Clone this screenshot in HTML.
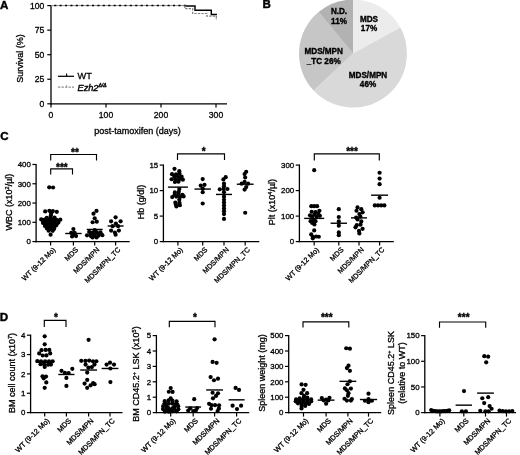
<!DOCTYPE html>
<html><head><meta charset="utf-8"><title>Figure</title>
<style>html,body{margin:0;padding:0;background:#fff}svg{display:block;filter:blur(0.35px)}</style>
</head><body>
<svg width="520" height="455" viewBox="0 0 520 455" font-family='"Liberation Sans", sans-serif'>
<rect width="520" height="455" fill="#fff"/>
<text x="0.10" y="8.50" font-size="11.6" text-anchor="start" font-weight="bold" fill="#000" stroke="#000" stroke-width="0.4" >A</text>
<text x="262.50" y="8.40" font-size="11.6" text-anchor="start" font-weight="bold" fill="#000" stroke="#000" stroke-width="0.4" >B</text>
<text x="0.20" y="140.00" font-size="11.6" text-anchor="start" font-weight="bold" fill="#000" stroke="#000" stroke-width="0.4" >C</text>
<text x="-0.20" y="320.70" font-size="11.6" text-anchor="start" font-weight="bold" fill="#000" stroke="#000" stroke-width="0.4" >D</text>
<line x1="51.00" y1="5.00" x2="51.00" y2="104.40" stroke="#000" stroke-width="1.3" />
<line x1="50.40" y1="103.80" x2="227.00" y2="103.80" stroke="#000" stroke-width="1.3" />
<line x1="47.30" y1="103.80" x2="51.00" y2="103.80" stroke="#000" stroke-width="1.2" />
<text x="44.30" y="106.85" font-size="8.6" text-anchor="end" font-weight="normal" fill="#000" stroke="#000" stroke-width="0.3" >0</text>
<line x1="47.30" y1="79.25" x2="51.00" y2="79.25" stroke="#000" stroke-width="1.2" />
<text x="44.30" y="82.30" font-size="8.6" text-anchor="end" font-weight="normal" fill="#000" stroke="#000" stroke-width="0.3" >25</text>
<line x1="47.30" y1="54.70" x2="51.00" y2="54.70" stroke="#000" stroke-width="1.2" />
<text x="44.30" y="57.75" font-size="8.6" text-anchor="end" font-weight="normal" fill="#000" stroke="#000" stroke-width="0.3" >50</text>
<line x1="47.30" y1="30.15" x2="51.00" y2="30.15" stroke="#000" stroke-width="1.2" />
<text x="44.30" y="33.20" font-size="8.6" text-anchor="end" font-weight="normal" fill="#000" stroke="#000" stroke-width="0.3" >75</text>
<line x1="47.30" y1="5.60" x2="51.00" y2="5.60" stroke="#000" stroke-width="1.2" />
<text x="44.30" y="8.65" font-size="8.6" text-anchor="end" font-weight="normal" fill="#000" stroke="#000" stroke-width="0.3" >100</text>
<line x1="51.00" y1="103.80" x2="51.00" y2="107.40" stroke="#000" stroke-width="1.2" />
<text x="51.00" y="117.80" font-size="8.6" text-anchor="middle" font-weight="normal" fill="#000" stroke="#000" stroke-width="0.3" >0</text>
<line x1="106.00" y1="103.80" x2="106.00" y2="107.40" stroke="#000" stroke-width="1.2" />
<text x="106.00" y="117.80" font-size="8.6" text-anchor="middle" font-weight="normal" fill="#000" stroke="#000" stroke-width="0.3" >100</text>
<line x1="161.00" y1="103.80" x2="161.00" y2="107.40" stroke="#000" stroke-width="1.2" />
<text x="161.00" y="117.80" font-size="8.6" text-anchor="middle" font-weight="normal" fill="#000" stroke="#000" stroke-width="0.3" >200</text>
<line x1="216.00" y1="103.80" x2="216.00" y2="107.40" stroke="#000" stroke-width="1.2" />
<text x="216.00" y="117.80" font-size="8.6" text-anchor="middle" font-weight="normal" fill="#000" stroke="#000" stroke-width="0.3" >300</text>
<text x="22.70" y="58.50" font-size="9" text-anchor="middle" font-weight="normal" fill="#000" stroke="#000" stroke-width="0.3" transform="rotate(-90 22.70 58.50)" >Survival (%)</text>
<text x="137.50" y="133.60" font-size="9" text-anchor="middle" font-weight="normal" fill="#000" stroke="#000" stroke-width="0.3" >post-tamoxifen (days)</text>
<path d="M51 5.6H186" fill="none" stroke="#8c8c8c" stroke-width="1.0"/>
<path d="M54.2 5.6H186" fill="none" stroke="#000" stroke-width="1.5" stroke-dasharray="2.1 3.3"/>
<path d="M185.6 5.8999999999999995H195V10.2H211.3V14.4H217" fill="none" stroke="#000" stroke-width="1.45"/>
<path d="M184.8 5.6V8.7H192.7V13.5H206.9V16.1H216.3V20" fill="none" stroke="#7c7c7c" stroke-width="1.2" stroke-dasharray="2.3 1.2"/>
<line x1="58.00" y1="76.30" x2="74.00" y2="76.30" stroke="#000" stroke-width="1.25" />
<line x1="66.60" y1="73.60" x2="66.60" y2="76.30" stroke="#000" stroke-width="1.1" />
<text x="77.50" y="79.10" font-size="9.2" text-anchor="start" font-weight="normal" fill="#000" stroke="#000" stroke-width="0.3" >WT</text>
<line x1="58.00" y1="87.10" x2="74.00" y2="87.10" stroke="#8e8e8e" stroke-width="1.1" stroke-dasharray="2.3 1.2"/>
<line x1="66.60" y1="85.20" x2="66.60" y2="87.10" stroke="#9c9c9c" stroke-width="1.0" />
<text x="77.5" y="90.6" font-size="9.2" font-style="italic" stroke="#000" stroke-width="0.4">Ezh2<tspan font-size="5" dy="-3.6">&#916;/&#916;</tspan></text>
<path d="M353.0 53.6L353.00 -0.40A54 54 0 0 1 400.32 27.59Z" fill="#ececec"/>
<path d="M353.0 53.6L400.32 27.59A54 54 0 0 1 313.64 90.57Z" fill="#d9d9d9"/>
<path d="M353.0 53.6L313.64 90.57A54 54 0 0 1 318.58 11.99Z" fill="#c6c6c6"/>
<path d="M353.0 53.6L318.58 11.99A54 54 0 0 1 353.00 -0.40Z" fill="#b2b2b2"/>
<text x="369.00" y="22.00" font-size="8.15" text-anchor="middle" font-weight="bold" fill="#000" stroke="#000" stroke-width="0.35" >MDS</text>
<text x="369.00" y="31.40" font-size="8.15" text-anchor="middle" font-weight="bold" fill="#000" stroke="#000" stroke-width="0.35" >17%</text>
<text x="339.00" y="14.20" font-size="8.15" text-anchor="middle" font-weight="bold" fill="#000" stroke="#000" stroke-width="0.35" >N.D.</text>
<text x="339.00" y="23.60" font-size="8.15" text-anchor="middle" font-weight="bold" fill="#000" stroke="#000" stroke-width="0.35" >11%</text>
<text x="323.70" y="54.20" font-size="8.15" text-anchor="middle" font-weight="bold" fill="#000" stroke="#000" stroke-width="0.35" >MDS/MPN</text>
<text x="323.70" y="63.60" font-size="8.15" text-anchor="middle" font-weight="bold" fill="#000" stroke="#000" stroke-width="0.35" >_TC 26%</text>
<text x="368.00" y="77.50" font-size="8.15" text-anchor="middle" font-weight="bold" fill="#000" stroke="#000" stroke-width="0.35" >MDS/MPN</text>
<text x="368.00" y="86.50" font-size="8.15" text-anchor="middle" font-weight="bold" fill="#000" stroke="#000" stroke-width="0.35" >46%</text>
<line x1="36.10" y1="163.88" x2="36.10" y2="242.20" stroke="#000" stroke-width="1.3" />
<line x1="35.50" y1="241.60" x2="129.70" y2="241.60" stroke="#000" stroke-width="1.3" />
<line x1="32.40" y1="241.60" x2="36.10" y2="241.60" stroke="#000" stroke-width="1.2" />
<text x="30.90" y="244.44" font-size="7.9" text-anchor="end" font-weight="normal" fill="#000" stroke="#000" stroke-width="0.3" >0</text>
<line x1="32.40" y1="222.32" x2="36.10" y2="222.32" stroke="#000" stroke-width="1.2" />
<text x="30.90" y="225.16" font-size="7.9" text-anchor="end" font-weight="normal" fill="#000" stroke="#000" stroke-width="0.3" >100</text>
<line x1="32.40" y1="203.04" x2="36.10" y2="203.04" stroke="#000" stroke-width="1.2" />
<text x="30.90" y="205.88" font-size="7.9" text-anchor="end" font-weight="normal" fill="#000" stroke="#000" stroke-width="0.3" >200</text>
<line x1="32.40" y1="183.76" x2="36.10" y2="183.76" stroke="#000" stroke-width="1.2" />
<text x="30.90" y="186.60" font-size="7.9" text-anchor="end" font-weight="normal" fill="#000" stroke="#000" stroke-width="0.3" >300</text>
<line x1="32.40" y1="164.48" x2="36.10" y2="164.48" stroke="#000" stroke-width="1.2" />
<text x="30.90" y="167.32" font-size="7.9" text-anchor="end" font-weight="normal" fill="#000" stroke="#000" stroke-width="0.3" >400</text>
<line x1="50.60" y1="241.60" x2="50.60" y2="245.60" stroke="#000" stroke-width="1.2" />
<line x1="73.40" y1="241.60" x2="73.40" y2="245.60" stroke="#000" stroke-width="1.2" />
<line x1="94.70" y1="241.60" x2="94.70" y2="245.60" stroke="#000" stroke-width="1.2" />
<line x1="115.60" y1="241.60" x2="115.60" y2="245.60" stroke="#000" stroke-width="1.2" />
<text x="55.90" y="250.20" font-size="7.15" text-anchor="end" font-weight="normal" fill="#000" stroke="#000" stroke-width="0.3" transform="rotate(-45 55.90 250.20)" >WT (9-12 Mo)</text>
<text x="78.70" y="250.20" font-size="7.15" text-anchor="end" font-weight="normal" fill="#000" stroke="#000" stroke-width="0.3" transform="rotate(-45 78.70 250.20)" >MDS</text>
<text x="100.00" y="250.20" font-size="7.15" text-anchor="end" font-weight="normal" fill="#000" stroke="#000" stroke-width="0.3" transform="rotate(-45 100.00 250.20)" >MDS/MPN</text>
<text x="120.90" y="250.20" font-size="7.15" text-anchor="end" font-weight="normal" fill="#000" stroke="#000" stroke-width="0.3" transform="rotate(-45 120.90 250.20)" >MDS/MPN_TC</text>
<text x="12.00" y="202.00" font-size="9" text-anchor="middle" font-weight="normal" fill="#000" stroke="#000" stroke-width="0.3" transform="rotate(-90 12.00 202.00)" >WBC (x10<tspan font-size="5.5" dy="-3">2</tspan><tspan dy="3">/&#181;l)</tspan></text>
<circle cx="49.22" cy="187.35" r="2.1"/>
<circle cx="53.05" cy="187.49" r="2.1"/>
<circle cx="45.18" cy="211.46" r="2.1"/>
<circle cx="49.37" cy="210.84" r="2.1"/>
<circle cx="52.87" cy="211.09" r="2.1"/>
<circle cx="56.79" cy="211.83" r="2.1"/>
<circle cx="51.10" cy="213.45" r="2.1"/>
<circle cx="50.90" cy="215.57" r="2.1"/>
<circle cx="46.79" cy="217.84" r="2.1"/>
<circle cx="50.43" cy="217.64" r="2.1"/>
<circle cx="54.58" cy="217.63" r="2.1"/>
<circle cx="41.22" cy="219.45" r="2.1"/>
<circle cx="44.68" cy="219.60" r="2.1"/>
<circle cx="48.75" cy="219.69" r="2.1"/>
<circle cx="52.27" cy="219.23" r="2.1"/>
<circle cx="56.29" cy="219.79" r="2.1"/>
<circle cx="60.29" cy="219.65" r="2.1"/>
<circle cx="43.21" cy="221.18" r="2.1"/>
<circle cx="46.95" cy="220.87" r="2.1"/>
<circle cx="50.82" cy="220.92" r="2.1"/>
<circle cx="54.20" cy="221.35" r="2.1"/>
<circle cx="58.06" cy="220.61" r="2.1"/>
<circle cx="42.97" cy="222.98" r="2.1"/>
<circle cx="46.70" cy="222.64" r="2.1"/>
<circle cx="50.54" cy="222.52" r="2.1"/>
<circle cx="54.44" cy="222.36" r="2.1"/>
<circle cx="58.40" cy="222.60" r="2.1"/>
<circle cx="45.11" cy="224.24" r="2.1"/>
<circle cx="48.95" cy="224.41" r="2.1"/>
<circle cx="52.33" cy="224.23" r="2.1"/>
<circle cx="56.53" cy="224.42" r="2.1"/>
<circle cx="44.93" cy="226.00" r="2.1"/>
<circle cx="48.56" cy="225.81" r="2.1"/>
<circle cx="52.54" cy="225.93" r="2.1"/>
<circle cx="56.08" cy="225.38" r="2.1"/>
<circle cx="47.04" cy="227.49" r="2.1"/>
<circle cx="50.75" cy="226.73" r="2.1"/>
<circle cx="54.23" cy="227.05" r="2.1"/>
<circle cx="46.93" cy="228.48" r="2.1"/>
<circle cx="50.37" cy="229.06" r="2.1"/>
<circle cx="54.17" cy="228.80" r="2.1"/>
<circle cx="48.62" cy="230.64" r="2.1"/>
<circle cx="52.74" cy="230.80" r="2.1"/>
<circle cx="50.60" cy="234.66" r="2.1"/>
<line x1="40.60" y1="220.39" x2="60.60" y2="220.39" stroke="#000" stroke-width="1.4" />
<circle cx="73.40" cy="229.07" r="2.1"/>
<circle cx="71.25" cy="232.93" r="2.1"/>
<circle cx="74.59" cy="232.73" r="2.1"/>
<circle cx="73.70" cy="234.27" r="2.1"/>
<circle cx="72.07" cy="236.49" r="2.1"/>
<circle cx="76.05" cy="236.09" r="2.1"/>
<line x1="65.20" y1="233.50" x2="81.60" y2="233.50" stroke="#000" stroke-width="1.4" />
<circle cx="96.50" cy="210.94" r="2.1"/>
<circle cx="93.50" cy="213.64" r="2.1"/>
<circle cx="94.70" cy="218.27" r="2.1"/>
<circle cx="92.63" cy="222.24" r="2.1"/>
<circle cx="96.78" cy="221.67" r="2.1"/>
<circle cx="94.70" cy="230.03" r="2.1"/>
<circle cx="89.23" cy="231.97" r="2.1"/>
<circle cx="92.74" cy="232.55" r="2.1"/>
<circle cx="96.61" cy="232.11" r="2.1"/>
<circle cx="100.45" cy="232.30" r="2.1"/>
<circle cx="90.96" cy="233.95" r="2.1"/>
<circle cx="94.70" cy="234.33" r="2.1"/>
<circle cx="98.61" cy="233.82" r="2.1"/>
<circle cx="87.00" cy="235.36" r="2.1"/>
<circle cx="90.91" cy="236.10" r="2.1"/>
<circle cx="94.46" cy="235.67" r="2.1"/>
<circle cx="98.54" cy="235.54" r="2.1"/>
<circle cx="102.36" cy="235.14" r="2.1"/>
<circle cx="92.58" cy="237.49" r="2.1"/>
<circle cx="96.58" cy="237.49" r="2.1"/>
<line x1="86.70" y1="229.45" x2="102.70" y2="229.45" stroke="#000" stroke-width="1.4" />
<circle cx="115.60" cy="217.31" r="2.1"/>
<circle cx="111.10" cy="221.36" r="2.1"/>
<circle cx="120.60" cy="221.36" r="2.1"/>
<circle cx="115.90" cy="223.48" r="2.1"/>
<circle cx="112.60" cy="226.18" r="2.1"/>
<circle cx="118.10" cy="226.18" r="2.1"/>
<circle cx="111.10" cy="230.61" r="2.1"/>
<circle cx="118.90" cy="230.61" r="2.1"/>
<circle cx="114.90" cy="232.54" r="2.1"/>
<circle cx="115.60" cy="234.66" r="2.1"/>
<line x1="107.60" y1="225.98" x2="123.60" y2="225.98" stroke="#000" stroke-width="1.4" />
<path d="M50.70 160.50V154.50H96.50V160.50" fill="none" stroke="#000" stroke-width="1.15"/>
<text x="75.00" y="156.10" font-size="10" text-anchor="middle" font-weight="bold" fill="#000" stroke="#000" stroke-width="0.35" >**</text>
<path d="M50.70 174.50V168.80H72.50V174.50" fill="none" stroke="#000" stroke-width="1.15"/>
<text x="61.90" y="170.50" font-size="10" text-anchor="middle" font-weight="bold" fill="#000" stroke="#000" stroke-width="0.35" >***</text>
<line x1="163.40" y1="164.50" x2="163.40" y2="242.20" stroke="#000" stroke-width="1.3" />
<line x1="162.80" y1="241.60" x2="259.30" y2="241.60" stroke="#000" stroke-width="1.3" />
<line x1="159.70" y1="241.60" x2="163.40" y2="241.60" stroke="#000" stroke-width="1.2" />
<text x="158.20" y="244.44" font-size="7.9" text-anchor="end" font-weight="normal" fill="#000" stroke="#000" stroke-width="0.3" >0</text>
<line x1="159.70" y1="216.10" x2="163.40" y2="216.10" stroke="#000" stroke-width="1.2" />
<text x="158.20" y="218.94" font-size="7.9" text-anchor="end" font-weight="normal" fill="#000" stroke="#000" stroke-width="0.3" >5</text>
<line x1="159.70" y1="190.60" x2="163.40" y2="190.60" stroke="#000" stroke-width="1.2" />
<text x="158.20" y="193.44" font-size="7.9" text-anchor="end" font-weight="normal" fill="#000" stroke="#000" stroke-width="0.3" >10</text>
<line x1="159.70" y1="165.10" x2="163.40" y2="165.10" stroke="#000" stroke-width="1.2" />
<text x="158.20" y="167.94" font-size="7.9" text-anchor="end" font-weight="normal" fill="#000" stroke="#000" stroke-width="0.3" >15</text>
<line x1="177.90" y1="241.60" x2="177.90" y2="245.60" stroke="#000" stroke-width="1.2" />
<line x1="202.70" y1="241.60" x2="202.70" y2="245.60" stroke="#000" stroke-width="1.2" />
<line x1="224.00" y1="241.60" x2="224.00" y2="245.60" stroke="#000" stroke-width="1.2" />
<line x1="245.20" y1="241.60" x2="245.20" y2="245.60" stroke="#000" stroke-width="1.2" />
<text x="183.20" y="250.20" font-size="7.15" text-anchor="end" font-weight="normal" fill="#000" stroke="#000" stroke-width="0.3" transform="rotate(-45 183.20 250.20)" >WT (9-12 Mo)</text>
<text x="208.00" y="250.20" font-size="7.15" text-anchor="end" font-weight="normal" fill="#000" stroke="#000" stroke-width="0.3" transform="rotate(-45 208.00 250.20)" >MDS</text>
<text x="229.30" y="250.20" font-size="7.15" text-anchor="end" font-weight="normal" fill="#000" stroke="#000" stroke-width="0.3" transform="rotate(-45 229.30 250.20)" >MDS/MPN</text>
<text x="250.50" y="250.20" font-size="7.15" text-anchor="end" font-weight="normal" fill="#000" stroke="#000" stroke-width="0.3" transform="rotate(-45 250.50 250.20)" >MDS/MPN_TC</text>
<text x="143.80" y="202.00" font-size="9" text-anchor="middle" font-weight="normal" fill="#000" stroke="#000" stroke-width="0.3" transform="rotate(-90 143.80 202.00)" >Hb (g/dl)</text>
<circle cx="174.50" cy="168.87" r="2.1"/>
<circle cx="179.30" cy="171.22" r="2.1"/>
<circle cx="172.03" cy="174.20" r="2.1"/>
<circle cx="176.02" cy="174.23" r="2.1"/>
<circle cx="179.48" cy="173.55" r="2.1"/>
<circle cx="174.33" cy="176.75" r="2.1"/>
<circle cx="177.88" cy="176.33" r="2.1"/>
<circle cx="181.61" cy="176.67" r="2.1"/>
<circle cx="171.61" cy="179.24" r="2.1"/>
<circle cx="175.55" cy="179.25" r="2.1"/>
<circle cx="179.24" cy="179.18" r="2.1"/>
<circle cx="182.86" cy="179.65" r="2.1"/>
<circle cx="174.92" cy="182.00" r="2.1"/>
<circle cx="178.46" cy="181.74" r="2.1"/>
<circle cx="179.30" cy="189.07" r="2.1"/>
<circle cx="174.87" cy="192.43" r="2.1"/>
<circle cx="178.77" cy="191.82" r="2.1"/>
<circle cx="174.70" cy="194.62" r="2.1"/>
<circle cx="178.62" cy="194.25" r="2.1"/>
<circle cx="182.47" cy="194.76" r="2.1"/>
<circle cx="172.23" cy="197.08" r="2.1"/>
<circle cx="176.28" cy="196.56" r="2.1"/>
<circle cx="179.98" cy="197.10" r="2.1"/>
<circle cx="183.61" cy="196.45" r="2.1"/>
<circle cx="179.30" cy="199.78" r="2.1"/>
<circle cx="175.35" cy="202.56" r="2.1"/>
<circle cx="179.47" cy="202.84" r="2.1"/>
<circle cx="175.89" cy="204.56" r="2.1"/>
<circle cx="179.87" cy="205.19" r="2.1"/>
<circle cx="176.40" cy="206.41" r="2.1"/>
<line x1="167.90" y1="187.13" x2="187.90" y2="187.13" stroke="#000" stroke-width="1.4" />
<circle cx="202.70" cy="179.07" r="2.1"/>
<circle cx="200.72" cy="185.55" r="2.1"/>
<circle cx="204.50" cy="184.87" r="2.1"/>
<circle cx="202.70" cy="188.56" r="2.1"/>
<circle cx="202.70" cy="192.13" r="2.1"/>
<circle cx="202.70" cy="203.50" r="2.1"/>
<line x1="194.50" y1="189.07" x2="210.90" y2="189.07" stroke="#000" stroke-width="1.4" />
<circle cx="225.70" cy="177.14" r="2.1"/>
<circle cx="223.40" cy="179.38" r="2.1"/>
<circle cx="224.00" cy="183.66" r="2.1"/>
<circle cx="224.00" cy="186.26" r="2.1"/>
<circle cx="219.79" cy="189.36" r="2.1"/>
<circle cx="223.66" cy="188.92" r="2.1"/>
<circle cx="227.45" cy="188.99" r="2.1"/>
<circle cx="224.00" cy="192.13" r="2.1"/>
<circle cx="224.00" cy="196.72" r="2.1"/>
<circle cx="224.00" cy="199.78" r="2.1"/>
<circle cx="224.00" cy="202.53" r="2.1"/>
<circle cx="224.00" cy="205.39" r="2.1"/>
<circle cx="224.00" cy="208.45" r="2.1"/>
<circle cx="224.00" cy="211.20" r="2.1"/>
<circle cx="224.00" cy="214.06" r="2.1"/>
<circle cx="224.00" cy="218.91" r="2.1"/>
<line x1="216.00" y1="194.43" x2="232.00" y2="194.43" stroke="#000" stroke-width="1.4" />
<circle cx="246.20" cy="171.73" r="2.1"/>
<circle cx="244.60" cy="174.03" r="2.1"/>
<circle cx="245.20" cy="177.49" r="2.1"/>
<circle cx="244.60" cy="181.93" r="2.1"/>
<circle cx="241.70" cy="183.66" r="2.1"/>
<circle cx="248.10" cy="183.66" r="2.1"/>
<circle cx="246.20" cy="187.03" r="2.1"/>
<circle cx="244.60" cy="189.58" r="2.1"/>
<circle cx="245.20" cy="212.73" r="2.1"/>
<line x1="236.80" y1="184.22" x2="253.60" y2="184.22" stroke="#000" stroke-width="1.4" />
<path d="M177.50 160.00V153.80H224.50V160.00" fill="none" stroke="#000" stroke-width="1.15"/>
<text x="203.75" y="155.00" font-size="10" text-anchor="middle" font-weight="bold" fill="#000" stroke="#000" stroke-width="0.35" >*</text>
<line x1="299.40" y1="164.50" x2="299.40" y2="242.20" stroke="#000" stroke-width="1.3" />
<line x1="298.80" y1="241.60" x2="393.80" y2="241.60" stroke="#000" stroke-width="1.3" />
<line x1="295.70" y1="241.60" x2="299.40" y2="241.60" stroke="#000" stroke-width="1.2" />
<text x="294.20" y="244.44" font-size="7.9" text-anchor="end" font-weight="normal" fill="#000" stroke="#000" stroke-width="0.3" >0</text>
<line x1="295.70" y1="216.10" x2="299.40" y2="216.10" stroke="#000" stroke-width="1.2" />
<text x="294.20" y="218.94" font-size="7.9" text-anchor="end" font-weight="normal" fill="#000" stroke="#000" stroke-width="0.3" >100</text>
<line x1="295.70" y1="190.60" x2="299.40" y2="190.60" stroke="#000" stroke-width="1.2" />
<text x="294.20" y="193.44" font-size="7.9" text-anchor="end" font-weight="normal" fill="#000" stroke="#000" stroke-width="0.3" >200</text>
<line x1="295.70" y1="165.10" x2="299.40" y2="165.10" stroke="#000" stroke-width="1.2" />
<text x="294.20" y="167.94" font-size="7.9" text-anchor="end" font-weight="normal" fill="#000" stroke="#000" stroke-width="0.3" >300</text>
<line x1="314.20" y1="241.60" x2="314.20" y2="245.60" stroke="#000" stroke-width="1.2" />
<line x1="338.80" y1="241.60" x2="338.80" y2="245.60" stroke="#000" stroke-width="1.2" />
<line x1="359.00" y1="241.60" x2="359.00" y2="245.60" stroke="#000" stroke-width="1.2" />
<line x1="379.60" y1="241.60" x2="379.60" y2="245.60" stroke="#000" stroke-width="1.2" />
<text x="319.50" y="250.20" font-size="7.15" text-anchor="end" font-weight="normal" fill="#000" stroke="#000" stroke-width="0.3" transform="rotate(-45 319.50 250.20)" >WT (9-12 Mo)</text>
<text x="344.10" y="250.20" font-size="7.15" text-anchor="end" font-weight="normal" fill="#000" stroke="#000" stroke-width="0.3" transform="rotate(-45 344.10 250.20)" >MDS</text>
<text x="364.30" y="250.20" font-size="7.15" text-anchor="end" font-weight="normal" fill="#000" stroke="#000" stroke-width="0.3" transform="rotate(-45 364.30 250.20)" >MDS/MPN</text>
<text x="384.90" y="250.20" font-size="7.15" text-anchor="end" font-weight="normal" fill="#000" stroke="#000" stroke-width="0.3" transform="rotate(-45 384.90 250.20)" >MDS/MPN_TC</text>
<text x="274.80" y="202.00" font-size="9" text-anchor="middle" font-weight="normal" fill="#000" stroke="#000" stroke-width="0.3" transform="rotate(-90 274.80 202.00)" >Plt (x10<tspan font-size="5.5" dy="-3">4</tspan><tspan dy="3">/&#181;l)</tspan></text>
<circle cx="314.20" cy="170.20" r="2.1"/>
<circle cx="311.30" cy="206.16" r="2.1"/>
<circle cx="314.20" cy="206.16" r="2.1"/>
<circle cx="317.10" cy="206.16" r="2.1"/>
<circle cx="319.40" cy="210.75" r="2.1"/>
<circle cx="311.70" cy="211.76" r="2.1"/>
<circle cx="315.50" cy="212.02" r="2.1"/>
<circle cx="318.20" cy="213.55" r="2.1"/>
<circle cx="310.00" cy="215.33" r="2.1"/>
<circle cx="314.40" cy="214.57" r="2.1"/>
<circle cx="319.90" cy="215.84" r="2.1"/>
<circle cx="312.20" cy="216.87" r="2.1"/>
<circle cx="316.60" cy="216.87" r="2.1"/>
<circle cx="310.60" cy="221.20" r="2.1"/>
<circle cx="315.50" cy="221.20" r="2.1"/>
<circle cx="313.20" cy="220.18" r="2.1"/>
<circle cx="312.20" cy="222.98" r="2.1"/>
<circle cx="314.40" cy="224.51" r="2.1"/>
<circle cx="314.20" cy="230.38" r="2.1"/>
<circle cx="311.20" cy="234.46" r="2.1"/>
<circle cx="312.80" cy="236.75" r="2.1"/>
<circle cx="316.10" cy="236.50" r="2.1"/>
<circle cx="318.80" cy="236.75" r="2.1"/>
<circle cx="312.80" cy="238.28" r="2.1"/>
<line x1="304.20" y1="218.39" x2="324.20" y2="218.39" stroke="#000" stroke-width="1.4" />
<circle cx="338.80" cy="209.22" r="2.1"/>
<circle cx="338.80" cy="216.99" r="2.1"/>
<circle cx="338.80" cy="221.45" r="2.1"/>
<circle cx="338.80" cy="225.64" r="2.1"/>
<circle cx="338.80" cy="232.42" r="2.1"/>
<circle cx="338.80" cy="235.22" r="2.1"/>
<line x1="330.60" y1="223.24" x2="347.00" y2="223.24" stroke="#000" stroke-width="1.4" />
<circle cx="357.50" cy="207.43" r="2.1"/>
<circle cx="361.30" cy="209.22" r="2.1"/>
<circle cx="356.50" cy="210.75" r="2.1"/>
<circle cx="362.60" cy="212.28" r="2.1"/>
<circle cx="359.40" cy="214.06" r="2.1"/>
<circle cx="356.13" cy="217.54" r="2.1"/>
<circle cx="360.32" cy="216.62" r="2.1"/>
<circle cx="357.50" cy="219.41" r="2.1"/>
<circle cx="361.30" cy="221.45" r="2.1"/>
<circle cx="356.74" cy="225.15" r="2.1"/>
<circle cx="360.53" cy="224.70" r="2.1"/>
<circle cx="355.50" cy="227.32" r="2.1"/>
<circle cx="362.60" cy="228.85" r="2.1"/>
<circle cx="359.00" cy="230.89" r="2.1"/>
<circle cx="359.40" cy="233.44" r="2.1"/>
<line x1="351.00" y1="217.88" x2="367.00" y2="217.88" stroke="#000" stroke-width="1.4" />
<circle cx="379.60" cy="172.75" r="2.1"/>
<circle cx="379.60" cy="178.62" r="2.1"/>
<circle cx="379.60" cy="184.22" r="2.1"/>
<circle cx="379.60" cy="197.74" r="2.1"/>
<circle cx="374.80" cy="205.39" r="2.1"/>
<circle cx="378.00" cy="205.39" r="2.1"/>
<circle cx="381.20" cy="205.39" r="2.1"/>
<circle cx="384.40" cy="205.39" r="2.1"/>
<line x1="371.10" y1="195.19" x2="388.10" y2="195.19" stroke="#000" stroke-width="1.4" />
<path d="M314.30 160.50V153.80H379.30V160.50" fill="none" stroke="#000" stroke-width="1.15"/>
<text x="352.00" y="155.00" font-size="10" text-anchor="middle" font-weight="bold" fill="#000" stroke="#000" stroke-width="0.35" >***</text>
<line x1="30.60" y1="334.60" x2="30.60" y2="413.20" stroke="#000" stroke-width="1.3" />
<line x1="30.00" y1="412.60" x2="122.50" y2="412.60" stroke="#000" stroke-width="1.3" />
<line x1="26.90" y1="412.60" x2="30.60" y2="412.60" stroke="#000" stroke-width="1.2" />
<text x="25.40" y="415.44" font-size="7.9" text-anchor="end" font-weight="normal" fill="#000" stroke="#000" stroke-width="0.3" >0</text>
<line x1="26.90" y1="393.25" x2="30.60" y2="393.25" stroke="#000" stroke-width="1.2" />
<text x="25.40" y="396.09" font-size="7.9" text-anchor="end" font-weight="normal" fill="#000" stroke="#000" stroke-width="0.3" >1</text>
<line x1="26.90" y1="373.90" x2="30.60" y2="373.90" stroke="#000" stroke-width="1.2" />
<text x="25.40" y="376.74" font-size="7.9" text-anchor="end" font-weight="normal" fill="#000" stroke="#000" stroke-width="0.3" >2</text>
<line x1="26.90" y1="354.55" x2="30.60" y2="354.55" stroke="#000" stroke-width="1.2" />
<text x="25.40" y="357.39" font-size="7.9" text-anchor="end" font-weight="normal" fill="#000" stroke="#000" stroke-width="0.3" >3</text>
<line x1="26.90" y1="335.20" x2="30.60" y2="335.20" stroke="#000" stroke-width="1.2" />
<text x="25.40" y="338.04" font-size="7.9" text-anchor="end" font-weight="normal" fill="#000" stroke="#000" stroke-width="0.3" >4</text>
<line x1="44.70" y1="412.60" x2="44.70" y2="416.60" stroke="#000" stroke-width="1.2" />
<line x1="66.40" y1="412.60" x2="66.40" y2="416.60" stroke="#000" stroke-width="1.2" />
<line x1="88.60" y1="412.60" x2="88.60" y2="416.60" stroke="#000" stroke-width="1.2" />
<line x1="110.00" y1="412.60" x2="110.00" y2="416.60" stroke="#000" stroke-width="1.2" />
<text x="50.00" y="421.20" font-size="7.3" text-anchor="end" font-weight="normal" fill="#000" stroke="#000" stroke-width="0.3" transform="rotate(-45 50.00 421.20)" >WT (9-12 Mo)</text>
<text x="71.70" y="421.20" font-size="7.3" text-anchor="end" font-weight="normal" fill="#000" stroke="#000" stroke-width="0.3" transform="rotate(-45 71.70 421.20)" >MDS</text>
<text x="93.90" y="421.20" font-size="7.3" text-anchor="end" font-weight="normal" fill="#000" stroke="#000" stroke-width="0.3" transform="rotate(-45 93.90 421.20)" >MDS/MPN</text>
<text x="115.30" y="421.20" font-size="7.3" text-anchor="end" font-weight="normal" fill="#000" stroke="#000" stroke-width="0.3" transform="rotate(-45 115.30 421.20)" >MDS/MPN_TC</text>
<text x="15.00" y="373.00" font-size="9" text-anchor="middle" font-weight="normal" fill="#000" stroke="#000" stroke-width="0.3" transform="rotate(-90 15.00 373.00)" >BM cell count (x10<tspan font-size="5.5" dy="-3">7</tspan><tspan dy="3">)</tspan></text>
<circle cx="44.70" cy="336.36" r="2.1"/>
<circle cx="44.70" cy="344.29" r="2.1"/>
<circle cx="41.56" cy="350.14" r="2.1"/>
<circle cx="45.67" cy="349.96" r="2.1"/>
<circle cx="49.31" cy="349.88" r="2.1"/>
<circle cx="39.20" cy="353.39" r="2.1"/>
<circle cx="50.20" cy="353.39" r="2.1"/>
<circle cx="42.72" cy="355.50" r="2.1"/>
<circle cx="46.38" cy="355.44" r="2.1"/>
<circle cx="37.29" cy="361.02" r="2.1"/>
<circle cx="40.97" cy="361.25" r="2.1"/>
<circle cx="45.10" cy="361.34" r="2.1"/>
<circle cx="49.00" cy="361.36" r="2.1"/>
<circle cx="52.64" cy="361.34" r="2.1"/>
<circle cx="40.52" cy="364.13" r="2.1"/>
<circle cx="44.10" cy="364.28" r="2.1"/>
<circle cx="48.01" cy="364.77" r="2.1"/>
<circle cx="50.90" cy="364.61" r="2.1"/>
<circle cx="44.70" cy="366.93" r="2.1"/>
<circle cx="42.52" cy="376.33" r="2.1"/>
<circle cx="46.02" cy="376.53" r="2.1"/>
<circle cx="43.70" cy="378.35" r="2.1"/>
<circle cx="46.30" cy="382.41" r="2.1"/>
<circle cx="44.70" cy="387.83" r="2.1"/>
<line x1="35.80" y1="362.29" x2="53.60" y2="362.29" stroke="#000" stroke-width="1.4" />
<circle cx="72.30" cy="368.87" r="2.1"/>
<circle cx="61.50" cy="370.80" r="2.1"/>
<circle cx="64.88" cy="372.88" r="2.1"/>
<circle cx="68.64" cy="373.10" r="2.1"/>
<circle cx="66.40" cy="377.96" r="2.1"/>
<circle cx="66.40" cy="385.90" r="2.1"/>
<line x1="58.30" y1="374.48" x2="74.50" y2="374.48" stroke="#000" stroke-width="1.4" />
<circle cx="88.60" cy="339.84" r="2.1"/>
<circle cx="81.25" cy="360.79" r="2.1"/>
<circle cx="85.36" cy="360.97" r="2.1"/>
<circle cx="89.15" cy="360.61" r="2.1"/>
<circle cx="92.95" cy="361.36" r="2.1"/>
<circle cx="96.35" cy="361.26" r="2.1"/>
<circle cx="85.60" cy="364.61" r="2.1"/>
<circle cx="94.50" cy="364.61" r="2.1"/>
<circle cx="88.38" cy="367.64" r="2.1"/>
<circle cx="91.89" cy="367.06" r="2.1"/>
<circle cx="87.20" cy="372.55" r="2.1"/>
<circle cx="87.20" cy="379.90" r="2.1"/>
<circle cx="93.10" cy="382.99" r="2.1"/>
<circle cx="84.60" cy="383.58" r="2.1"/>
<circle cx="94.60" cy="384.16" r="2.1"/>
<circle cx="90.60" cy="385.32" r="2.1"/>
<circle cx="87.20" cy="387.83" r="2.1"/>
<line x1="80.20" y1="370.03" x2="97.00" y2="370.03" stroke="#000" stroke-width="1.4" />
<circle cx="110.00" cy="362.68" r="2.1"/>
<circle cx="106.60" cy="364.61" r="2.1"/>
<circle cx="114.00" cy="364.61" r="2.1"/>
<circle cx="110.40" cy="368.48" r="2.1"/>
<circle cx="110.40" cy="382.03" r="2.1"/>
<line x1="101.60" y1="368.48" x2="118.40" y2="368.48" stroke="#000" stroke-width="1.4" />
<path d="M44.30 327.10V320.40H66.00V327.10" fill="none" stroke="#000" stroke-width="1.15"/>
<text x="55.95" y="320.65" font-size="10" text-anchor="middle" font-weight="bold" fill="#000" stroke="#000" stroke-width="0.35" >*</text>
<line x1="156.40" y1="335.00" x2="156.40" y2="413.20" stroke="#000" stroke-width="1.3" />
<line x1="155.80" y1="412.60" x2="249.20" y2="412.60" stroke="#000" stroke-width="1.3" />
<line x1="152.70" y1="412.60" x2="156.40" y2="412.60" stroke="#000" stroke-width="1.2" />
<text x="151.20" y="415.44" font-size="7.9" text-anchor="end" font-weight="normal" fill="#000" stroke="#000" stroke-width="0.3" >0</text>
<line x1="152.70" y1="397.20" x2="156.40" y2="397.20" stroke="#000" stroke-width="1.2" />
<text x="151.20" y="400.04" font-size="7.9" text-anchor="end" font-weight="normal" fill="#000" stroke="#000" stroke-width="0.3" >1</text>
<line x1="152.70" y1="381.80" x2="156.40" y2="381.80" stroke="#000" stroke-width="1.2" />
<text x="151.20" y="384.64" font-size="7.9" text-anchor="end" font-weight="normal" fill="#000" stroke="#000" stroke-width="0.3" >2</text>
<line x1="152.70" y1="366.40" x2="156.40" y2="366.40" stroke="#000" stroke-width="1.2" />
<text x="151.20" y="369.24" font-size="7.9" text-anchor="end" font-weight="normal" fill="#000" stroke="#000" stroke-width="0.3" >3</text>
<line x1="152.70" y1="351.00" x2="156.40" y2="351.00" stroke="#000" stroke-width="1.2" />
<text x="151.20" y="353.84" font-size="7.9" text-anchor="end" font-weight="normal" fill="#000" stroke="#000" stroke-width="0.3" >4</text>
<line x1="152.70" y1="335.60" x2="156.40" y2="335.60" stroke="#000" stroke-width="1.2" />
<text x="151.20" y="338.44" font-size="7.9" text-anchor="end" font-weight="normal" fill="#000" stroke="#000" stroke-width="0.3" >5</text>
<line x1="170.70" y1="412.60" x2="170.70" y2="416.60" stroke="#000" stroke-width="1.2" />
<line x1="193.20" y1="412.60" x2="193.20" y2="416.60" stroke="#000" stroke-width="1.2" />
<line x1="214.60" y1="412.60" x2="214.60" y2="416.60" stroke="#000" stroke-width="1.2" />
<line x1="236.60" y1="412.60" x2="236.60" y2="416.60" stroke="#000" stroke-width="1.2" />
<text x="176.00" y="421.20" font-size="7.3" text-anchor="end" font-weight="normal" fill="#000" stroke="#000" stroke-width="0.3" transform="rotate(-45 176.00 421.20)" >WT (9-12 Mo)</text>
<text x="198.50" y="421.20" font-size="7.3" text-anchor="end" font-weight="normal" fill="#000" stroke="#000" stroke-width="0.3" transform="rotate(-45 198.50 421.20)" >MDS</text>
<text x="219.90" y="421.20" font-size="7.3" text-anchor="end" font-weight="normal" fill="#000" stroke="#000" stroke-width="0.3" transform="rotate(-45 219.90 421.20)" >MDS/MPN</text>
<text x="241.90" y="421.20" font-size="7.3" text-anchor="end" font-weight="normal" fill="#000" stroke="#000" stroke-width="0.3" transform="rotate(-45 241.90 421.20)" >MDS/MPN_TC</text>
<text x="139.00" y="374.00" font-size="9" text-anchor="middle" font-weight="normal" fill="#000" stroke="#000" stroke-width="0.3" transform="rotate(-90 139.00 374.00)" >BM CD45.2<tspan font-size="5.5" dy="-3">+</tspan><tspan dy="3"> LSK (x10</tspan><tspan font-size="5.5" dy="-3">5</tspan><tspan dy="3">)</tspan></text>
<circle cx="170.70" cy="388.11" r="2.1"/>
<circle cx="168.81" cy="391.73" r="2.1"/>
<circle cx="172.59" cy="391.89" r="2.1"/>
<circle cx="170.70" cy="398.43" r="2.1"/>
<circle cx="164.75" cy="401.17" r="2.1"/>
<circle cx="168.61" cy="400.45" r="2.1"/>
<circle cx="172.38" cy="400.52" r="2.1"/>
<circle cx="176.58" cy="401.37" r="2.1"/>
<circle cx="165.00" cy="403.41" r="2.1"/>
<circle cx="168.71" cy="403.64" r="2.1"/>
<circle cx="172.67" cy="403.67" r="2.1"/>
<circle cx="176.33" cy="403.91" r="2.1"/>
<circle cx="163.20" cy="406.13" r="2.1"/>
<circle cx="166.40" cy="406.13" r="2.1"/>
<circle cx="175.00" cy="406.13" r="2.1"/>
<circle cx="178.20" cy="406.13" r="2.1"/>
<circle cx="168.50" cy="407.98" r="2.1"/>
<circle cx="172.90" cy="407.98" r="2.1"/>
<circle cx="163.01" cy="409.06" r="2.1"/>
<circle cx="166.93" cy="408.99" r="2.1"/>
<circle cx="170.64" cy="409.58" r="2.1"/>
<circle cx="174.34" cy="408.95" r="2.1"/>
<circle cx="178.35" cy="409.24" r="2.1"/>
<circle cx="164.94" cy="411.65" r="2.1"/>
<circle cx="168.86" cy="411.67" r="2.1"/>
<circle cx="172.54" cy="411.30" r="2.1"/>
<circle cx="176.50" cy="411.36" r="2.1"/>
<line x1="162.30" y1="403.51" x2="179.10" y2="403.51" stroke="#000" stroke-width="1.4" />
<circle cx="194.20" cy="399.20" r="2.1"/>
<circle cx="190.20" cy="408.29" r="2.1"/>
<circle cx="197.20" cy="407.98" r="2.1"/>
<circle cx="188.20" cy="410.60" r="2.1"/>
<circle cx="193.20" cy="411.06" r="2.1"/>
<circle cx="195.80" cy="410.44" r="2.1"/>
<line x1="185.30" y1="407.06" x2="201.10" y2="407.06" stroke="#000" stroke-width="1.4" />
<circle cx="214.60" cy="339.30" r="2.1"/>
<circle cx="212.60" cy="361.93" r="2.1"/>
<circle cx="216.60" cy="362.86" r="2.1"/>
<circle cx="210.60" cy="377.03" r="2.1"/>
<circle cx="218.00" cy="378.72" r="2.1"/>
<circle cx="214.00" cy="380.26" r="2.1"/>
<circle cx="218.00" cy="393.35" r="2.1"/>
<circle cx="212.60" cy="392.73" r="2.1"/>
<circle cx="216.00" cy="395.97" r="2.1"/>
<circle cx="213.00" cy="398.28" r="2.1"/>
<circle cx="209.10" cy="403.82" r="2.1"/>
<circle cx="211.50" cy="405.13" r="2.1"/>
<circle cx="215.07" cy="405.17" r="2.1"/>
<circle cx="219.10" cy="405.24" r="2.1"/>
<circle cx="211.00" cy="408.75" r="2.1"/>
<circle cx="218.90" cy="408.44" r="2.1"/>
<circle cx="217.60" cy="411.06" r="2.1"/>
<line x1="206.20" y1="389.96" x2="223.00" y2="389.96" stroke="#000" stroke-width="1.4" />
<circle cx="235.60" cy="387.96" r="2.1"/>
<circle cx="239.00" cy="389.96" r="2.1"/>
<circle cx="232.60" cy="405.67" r="2.1"/>
<circle cx="241.10" cy="405.67" r="2.1"/>
<circle cx="237.00" cy="409.06" r="2.1"/>
<line x1="228.60" y1="399.82" x2="244.60" y2="399.82" stroke="#000" stroke-width="1.4" />
<path d="M169.30 327.30V321.30H215.00V327.30" fill="none" stroke="#000" stroke-width="1.15"/>
<text x="195.00" y="321.00" font-size="10" text-anchor="middle" font-weight="bold" fill="#000" stroke="#000" stroke-width="0.35" >*</text>
<line x1="288.70" y1="335.00" x2="288.70" y2="413.20" stroke="#000" stroke-width="1.3" />
<line x1="288.10" y1="412.60" x2="381.20" y2="412.60" stroke="#000" stroke-width="1.3" />
<line x1="285.00" y1="412.60" x2="288.70" y2="412.60" stroke="#000" stroke-width="1.2" />
<text x="283.50" y="415.44" font-size="7.9" text-anchor="end" font-weight="normal" fill="#000" stroke="#000" stroke-width="0.3" >0</text>
<line x1="285.00" y1="397.20" x2="288.70" y2="397.20" stroke="#000" stroke-width="1.2" />
<text x="283.50" y="400.04" font-size="7.9" text-anchor="end" font-weight="normal" fill="#000" stroke="#000" stroke-width="0.3" >100</text>
<line x1="285.00" y1="381.80" x2="288.70" y2="381.80" stroke="#000" stroke-width="1.2" />
<text x="283.50" y="384.64" font-size="7.9" text-anchor="end" font-weight="normal" fill="#000" stroke="#000" stroke-width="0.3" >200</text>
<line x1="285.00" y1="366.40" x2="288.70" y2="366.40" stroke="#000" stroke-width="1.2" />
<text x="283.50" y="369.24" font-size="7.9" text-anchor="end" font-weight="normal" fill="#000" stroke="#000" stroke-width="0.3" >300</text>
<line x1="285.00" y1="351.00" x2="288.70" y2="351.00" stroke="#000" stroke-width="1.2" />
<text x="283.50" y="353.84" font-size="7.9" text-anchor="end" font-weight="normal" fill="#000" stroke="#000" stroke-width="0.3" >400</text>
<line x1="285.00" y1="335.60" x2="288.70" y2="335.60" stroke="#000" stroke-width="1.2" />
<text x="283.50" y="338.44" font-size="7.9" text-anchor="end" font-weight="normal" fill="#000" stroke="#000" stroke-width="0.3" >500</text>
<line x1="303.50" y1="412.60" x2="303.50" y2="416.60" stroke="#000" stroke-width="1.2" />
<line x1="326.10" y1="412.60" x2="326.10" y2="416.60" stroke="#000" stroke-width="1.2" />
<line x1="347.90" y1="412.60" x2="347.90" y2="416.60" stroke="#000" stroke-width="1.2" />
<line x1="368.50" y1="412.60" x2="368.50" y2="416.60" stroke="#000" stroke-width="1.2" />
<text x="308.80" y="421.20" font-size="7.3" text-anchor="end" font-weight="normal" fill="#000" stroke="#000" stroke-width="0.3" transform="rotate(-45 308.80 421.20)" >WT (9-12 Mo)</text>
<text x="331.40" y="421.20" font-size="7.3" text-anchor="end" font-weight="normal" fill="#000" stroke="#000" stroke-width="0.3" transform="rotate(-45 331.40 421.20)" >MDS</text>
<text x="353.20" y="421.20" font-size="7.3" text-anchor="end" font-weight="normal" fill="#000" stroke="#000" stroke-width="0.3" transform="rotate(-45 353.20 421.20)" >MDS/MPN</text>
<text x="373.80" y="421.20" font-size="7.3" text-anchor="end" font-weight="normal" fill="#000" stroke="#000" stroke-width="0.3" transform="rotate(-45 373.80 421.20)" >MDS/MPN_TC</text>
<text x="264.90" y="373.00" font-size="9" text-anchor="middle" font-weight="normal" fill="#000" stroke="#000" stroke-width="0.3" transform="rotate(-90 264.90 373.00)" >Spleen weight (mg)</text>
<circle cx="301.56" cy="384.45" r="2.1"/>
<circle cx="305.59" cy="384.81" r="2.1"/>
<circle cx="303.50" cy="389.81" r="2.1"/>
<circle cx="301.50" cy="393.20" r="2.1"/>
<circle cx="307.10" cy="393.20" r="2.1"/>
<circle cx="304.10" cy="395.81" r="2.1"/>
<circle cx="299.64" cy="398.25" r="2.1"/>
<circle cx="303.65" cy="398.21" r="2.1"/>
<circle cx="307.28" cy="397.58" r="2.1"/>
<circle cx="296.06" cy="399.44" r="2.1"/>
<circle cx="299.89" cy="399.98" r="2.1"/>
<circle cx="303.58" cy="400.11" r="2.1"/>
<circle cx="307.33" cy="400.05" r="2.1"/>
<circle cx="311.14" cy="399.42" r="2.1"/>
<circle cx="295.72" cy="401.32" r="2.1"/>
<circle cx="299.47" cy="402.09" r="2.1"/>
<circle cx="303.30" cy="401.41" r="2.1"/>
<circle cx="307.14" cy="402.20" r="2.1"/>
<circle cx="311.27" cy="401.34" r="2.1"/>
<circle cx="297.97" cy="403.29" r="2.1"/>
<circle cx="301.77" cy="403.84" r="2.1"/>
<circle cx="305.44" cy="404.12" r="2.1"/>
<circle cx="308.97" cy="403.97" r="2.1"/>
<circle cx="301.61" cy="405.94" r="2.1"/>
<circle cx="305.20" cy="405.89" r="2.1"/>
<circle cx="301.50" cy="408.44" r="2.1"/>
<line x1="294.90" y1="399.51" x2="312.10" y2="399.51" stroke="#000" stroke-width="1.4" />
<circle cx="321.80" cy="398.12" r="2.1"/>
<circle cx="329.50" cy="397.82" r="2.1"/>
<circle cx="323.60" cy="400.28" r="2.1"/>
<circle cx="328.30" cy="400.43" r="2.1"/>
<circle cx="326.10" cy="399.66" r="2.1"/>
<circle cx="326.10" cy="403.67" r="2.1"/>
<line x1="317.70" y1="400.13" x2="334.50" y2="400.13" stroke="#000" stroke-width="1.4" />
<circle cx="346.20" cy="348.23" r="2.1"/>
<circle cx="349.90" cy="348.69" r="2.1"/>
<circle cx="348.50" cy="365.63" r="2.1"/>
<circle cx="346.90" cy="368.09" r="2.1"/>
<circle cx="349.90" cy="370.87" r="2.1"/>
<circle cx="349.90" cy="381.34" r="2.1"/>
<circle cx="347.50" cy="384.26" r="2.1"/>
<circle cx="344.90" cy="388.42" r="2.1"/>
<circle cx="350.90" cy="388.58" r="2.1"/>
<circle cx="346.90" cy="390.27" r="2.1"/>
<circle cx="348.50" cy="393.20" r="2.1"/>
<circle cx="347.90" cy="395.81" r="2.1"/>
<circle cx="344.50" cy="398.74" r="2.1"/>
<circle cx="351.90" cy="399.05" r="2.1"/>
<circle cx="346.90" cy="400.59" r="2.1"/>
<circle cx="350.90" cy="400.59" r="2.1"/>
<line x1="339.50" y1="381.34" x2="356.30" y2="381.34" stroke="#000" stroke-width="1.4" />
<circle cx="368.50" cy="393.66" r="2.1"/>
<circle cx="368.50" cy="399.20" r="2.1"/>
<circle cx="364.90" cy="400.74" r="2.1"/>
<circle cx="371.90" cy="400.74" r="2.1"/>
<circle cx="368.50" cy="402.13" r="2.1"/>
<line x1="359.90" y1="399.51" x2="377.10" y2="399.51" stroke="#000" stroke-width="1.4" />
<path d="M303.00 327.50V321.80H348.80V327.50" fill="none" stroke="#000" stroke-width="1.15"/>
<text x="326.75" y="321.00" font-size="10" text-anchor="middle" font-weight="bold" fill="#000" stroke="#000" stroke-width="0.35" >***</text>
<line x1="424.80" y1="335.05" x2="424.80" y2="413.20" stroke="#000" stroke-width="1.3" />
<line x1="424.20" y1="412.60" x2="516.00" y2="412.60" stroke="#000" stroke-width="1.3" />
<line x1="421.10" y1="412.60" x2="424.80" y2="412.60" stroke="#000" stroke-width="1.2" />
<text x="419.60" y="415.44" font-size="7.9" text-anchor="end" font-weight="normal" fill="#000" stroke="#000" stroke-width="0.3" >0</text>
<line x1="421.10" y1="386.95" x2="424.80" y2="386.95" stroke="#000" stroke-width="1.2" />
<text x="419.60" y="389.79" font-size="7.9" text-anchor="end" font-weight="normal" fill="#000" stroke="#000" stroke-width="0.3" >50</text>
<line x1="421.10" y1="361.30" x2="424.80" y2="361.30" stroke="#000" stroke-width="1.2" />
<text x="419.60" y="364.14" font-size="7.9" text-anchor="end" font-weight="normal" fill="#000" stroke="#000" stroke-width="0.3" >100</text>
<line x1="421.10" y1="335.65" x2="424.80" y2="335.65" stroke="#000" stroke-width="1.2" />
<text x="419.60" y="338.49" font-size="7.9" text-anchor="end" font-weight="normal" fill="#000" stroke="#000" stroke-width="0.3" >150</text>
<line x1="439.90" y1="412.60" x2="439.90" y2="416.60" stroke="#000" stroke-width="1.2" />
<line x1="463.80" y1="412.60" x2="463.80" y2="416.60" stroke="#000" stroke-width="1.2" />
<line x1="485.50" y1="412.60" x2="485.50" y2="416.60" stroke="#000" stroke-width="1.2" />
<line x1="506.50" y1="412.60" x2="506.50" y2="416.60" stroke="#000" stroke-width="1.2" />
<text x="445.20" y="421.20" font-size="7.3" text-anchor="end" font-weight="normal" fill="#000" stroke="#000" stroke-width="0.3" transform="rotate(-45 445.20 421.20)" >WT (9-12 Mo)</text>
<text x="469.10" y="421.20" font-size="7.3" text-anchor="end" font-weight="normal" fill="#000" stroke="#000" stroke-width="0.3" transform="rotate(-45 469.10 421.20)" >MDS</text>
<text x="490.80" y="421.20" font-size="7.3" text-anchor="end" font-weight="normal" fill="#000" stroke="#000" stroke-width="0.3" transform="rotate(-45 490.80 421.20)" >MDS/MPN</text>
<text x="511.80" y="421.20" font-size="7.3" text-anchor="end" font-weight="normal" fill="#000" stroke="#000" stroke-width="0.3" transform="rotate(-45 511.80 421.20)" >MDS/MPN_TC</text>
<text x="394.00" y="373.00" font-size="9" text-anchor="middle" font-weight="normal" fill="#000" stroke="#000" stroke-width="0.3" transform="rotate(-90 394.00 373.00)" >Spleen CD45.2<tspan font-size="5.5" dy="-3">+</tspan><tspan dy="3"> LSK</tspan></text>
<text x="404.80" y="373.00" font-size="9" text-anchor="middle" font-weight="normal" fill="#000" stroke="#000" stroke-width="0.3" transform="rotate(-90 404.80 373.00)" >(relative to WT)</text>
<circle cx="431.20" cy="410.04" r="2.1"/>
<circle cx="433.20" cy="410.80" r="2.1"/>
<circle cx="435.20" cy="411.06" r="2.1"/>
<circle cx="437.20" cy="411.32" r="2.1"/>
<circle cx="439.20" cy="411.32" r="2.1"/>
<circle cx="441.20" cy="411.32" r="2.1"/>
<circle cx="443.20" cy="411.06" r="2.1"/>
<circle cx="445.20" cy="411.06" r="2.1"/>
<circle cx="447.20" cy="410.80" r="2.1"/>
<circle cx="449.20" cy="410.29" r="2.1"/>
<circle cx="464.00" cy="391.05" r="2.1"/>
<circle cx="461.90" cy="411.32" r="2.1"/>
<circle cx="465.90" cy="411.32" r="2.1"/>
<line x1="455.60" y1="405.16" x2="472.00" y2="405.16" stroke="#000" stroke-width="1.4" />
<circle cx="484.30" cy="356.17" r="2.1"/>
<circle cx="488.20" cy="356.68" r="2.1"/>
<circle cx="486.20" cy="362.33" r="2.1"/>
<circle cx="482.30" cy="398.24" r="2.1"/>
<circle cx="488.20" cy="397.21" r="2.1"/>
<circle cx="484.20" cy="403.11" r="2.1"/>
<circle cx="489.60" cy="406.08" r="2.1"/>
<circle cx="491.60" cy="408.75" r="2.1"/>
<circle cx="480.30" cy="410.80" r="2.1"/>
<circle cx="485.40" cy="411.32" r="2.1"/>
<circle cx="488.60" cy="411.32" r="2.1"/>
<line x1="477.10" y1="393.11" x2="493.90" y2="393.11" stroke="#000" stroke-width="1.4" />
<circle cx="499.50" cy="410.55" r="2.1"/>
<circle cx="502.70" cy="411.06" r="2.1"/>
<circle cx="505.90" cy="411.32" r="2.1"/>
<circle cx="509.10" cy="411.32" r="2.1"/>
<circle cx="512.30" cy="411.06" r="2.1"/>
<path d="M439.50 327.80V322.00H485.70V327.80" fill="none" stroke="#000" stroke-width="1.15"/>
<text x="463.70" y="321.10" font-size="10" text-anchor="middle" font-weight="bold" fill="#000" stroke="#000" stroke-width="0.35" >***</text>
</svg>
</body></html>
